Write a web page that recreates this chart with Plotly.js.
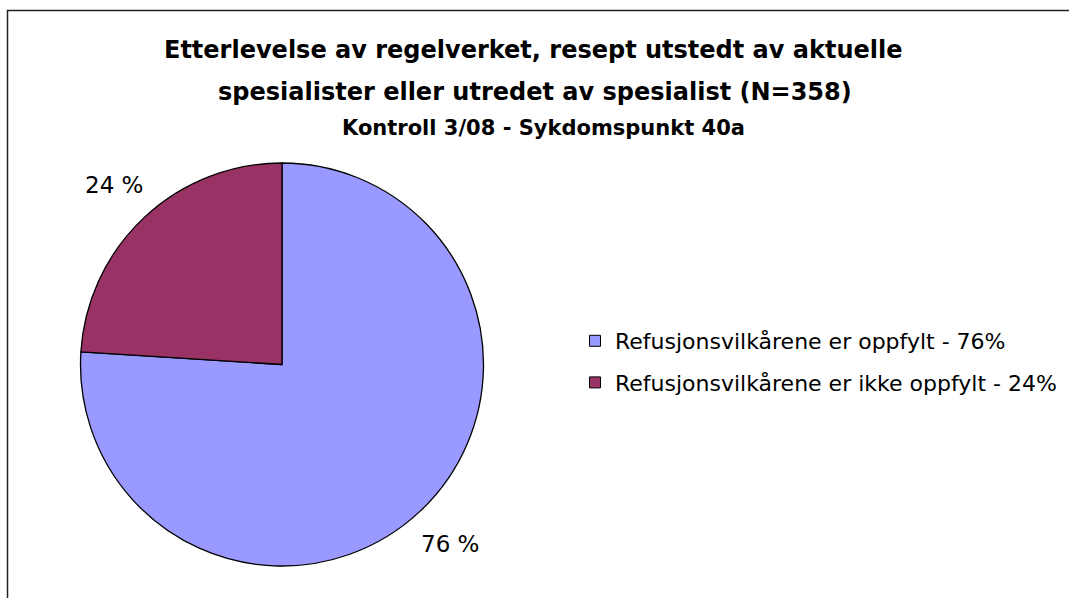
<!DOCTYPE html>
<html>
<head>
<meta charset="utf-8">
<script src="https://cdn.plot.ly/plotly-3.0.1.min.js"></script>
<style>
  html, body { margin: 0; padding: 0; background: #ffffff; }
  #chart { width: 1069px; height: 598px; }
</style>
</head>
<body>
<div id="chart"></div>
<script>
// ---- Data ----
var categories = ['Refusjonsvilkårene er oppfylt', 'Refusjonsvilkårene er ikke oppfylt'];
var values = [76, 24];
var colors = ['#9999FF', '#993366'];
var titleLines = ['Etterlevelse av regelverket, resept utstedt av aktuelle',
                  'spesialister eller utredet av spesialist (N=358)'];
var subtitle = 'Kontroll 3/08 - Sykdomspunkt 40a';

// ---- Layout geometry ----
var W = 1069, H = 598;
var cx = 282, cy = 364.5, R = 201.5;           // pie centre / radius in px
var domX = [(cx - R) / W, (cx + R) / W];
var domY = [(H - cy - R) / H, (H - cy + R) / H];
var FONT = 'DejaVu Sans, Arial, sans-serif';

var total = values.reduce(function (a, b) { return a + b; }, 0);
var legendLabels = categories.map(function (c, i) {
  return c + ' - ' + Math.round(values[i] / total * 100) + '%';
});

var pie = {
  type: 'pie',
  labels: legendLabels,
  values: values,
  sort: false,
  direction: 'clockwise',
  rotation: 0,
  textinfo: 'none',
  hoverinfo: 'label+percent',
  marker: { colors: colors, line: { color: '#000000', width: 1.3 } },
  domain: { x: domX, y: domY },
  showlegend: false
};

// legend entries (one group per slice so the entries can be spaced apart)
var legendTraces = legendLabels.map(function (lab, i) {
  return {
    type: 'scatter', mode: 'markers',
    x: [null], y: [null],
    name: lab,
    legendgroup: 'g' + i,
    showlegend: true,
    hoverinfo: 'skip',
    marker: { symbol: 'square', size: 11, color: colors[i], line: { color: '#000000', width: 1 } }
  };
});

// percentage labels placed outside each slice, along its mid-angle
var annotations = [];
var cum = 0;
for (var i = 0; i < values.length; i++) {
  var mid = (cum + values[i] / 2) / total * 2 * Math.PI;
  cum += values[i];
  var dist = R * 1.22;
  var px = cx + dist * Math.sin(mid);
  var py = cy - dist * Math.cos(mid);
  annotations.push({
    xref: 'paper', yref: 'paper',
    x: px / W, y: 1 - py / H,
    xanchor: 'center', yanchor: 'middle',
    text: Math.round(values[i] / total * 100) + ' %',
    showarrow: false,
    font: { family: FONT, size: 23, color: '#000000' }
  });
}

// title lines
annotations.push({
  xref: 'paper', yref: 'paper', x: 533 / W, y: 1 - 49.5 / H,
  xanchor: 'center', yanchor: 'middle', showarrow: false,
  text: '<b>' + titleLines[0] + '</b>',
  font: { family: FONT, size: 24, color: '#000000' }
});
annotations.push({
  xref: 'paper', yref: 'paper', x: 535 / W, y: 1 - 91.5 / H,
  xanchor: 'center', yanchor: 'middle', showarrow: false,
  text: '<b>' + titleLines[1] + '</b>',
  font: { family: FONT, size: 24, color: '#000000' }
});
annotations.push({
  xref: 'paper', yref: 'paper', x: 543 / W, y: 1 - 128 / H,
  xanchor: 'center', yanchor: 'middle', showarrow: false,
  text: '<b>' + subtitle + '</b>',
  font: { family: FONT, size: 21, color: '#000000' }
});

var layout = {
  width: W, height: H,
  margin: { l: 0, r: 0, t: 0, b: 0 },
  paper_bgcolor: '#ffffff',
  plot_bgcolor: '#ffffff',
  font: { family: FONT, color: '#000000' },
  showlegend: true,
  xaxis: { visible: false, fixedrange: true },
  yaxis: { visible: false, fixedrange: true },
  legend: {
    x: 575 / W, xanchor: 'left',
    y: 1 - 362 / H, yanchor: 'middle',
    font: { family: FONT, size: 22, color: '#000000' },
    bgcolor: 'rgba(0,0,0,0)',
    borderwidth: 0,
    traceorder: 'grouped',
    tracegroupgap: 10
  },
  annotations: annotations,
  shapes: [{
    type: 'rect', xref: 'paper', yref: 'paper',
    x0: 7.5 / W, x1: 1.05, y0: -0.05, y1: 1 - 10.5 / H,
    line: { color: '#222222', width: 1.5 },
    fillcolor: 'rgba(0,0,0,0)',
    layer: 'above'
  }]
};

Plotly.newPlot('chart', [pie].concat(legendTraces), layout, { displayModeBar: false, staticPlot: true });
</script>
</body>
</html>
